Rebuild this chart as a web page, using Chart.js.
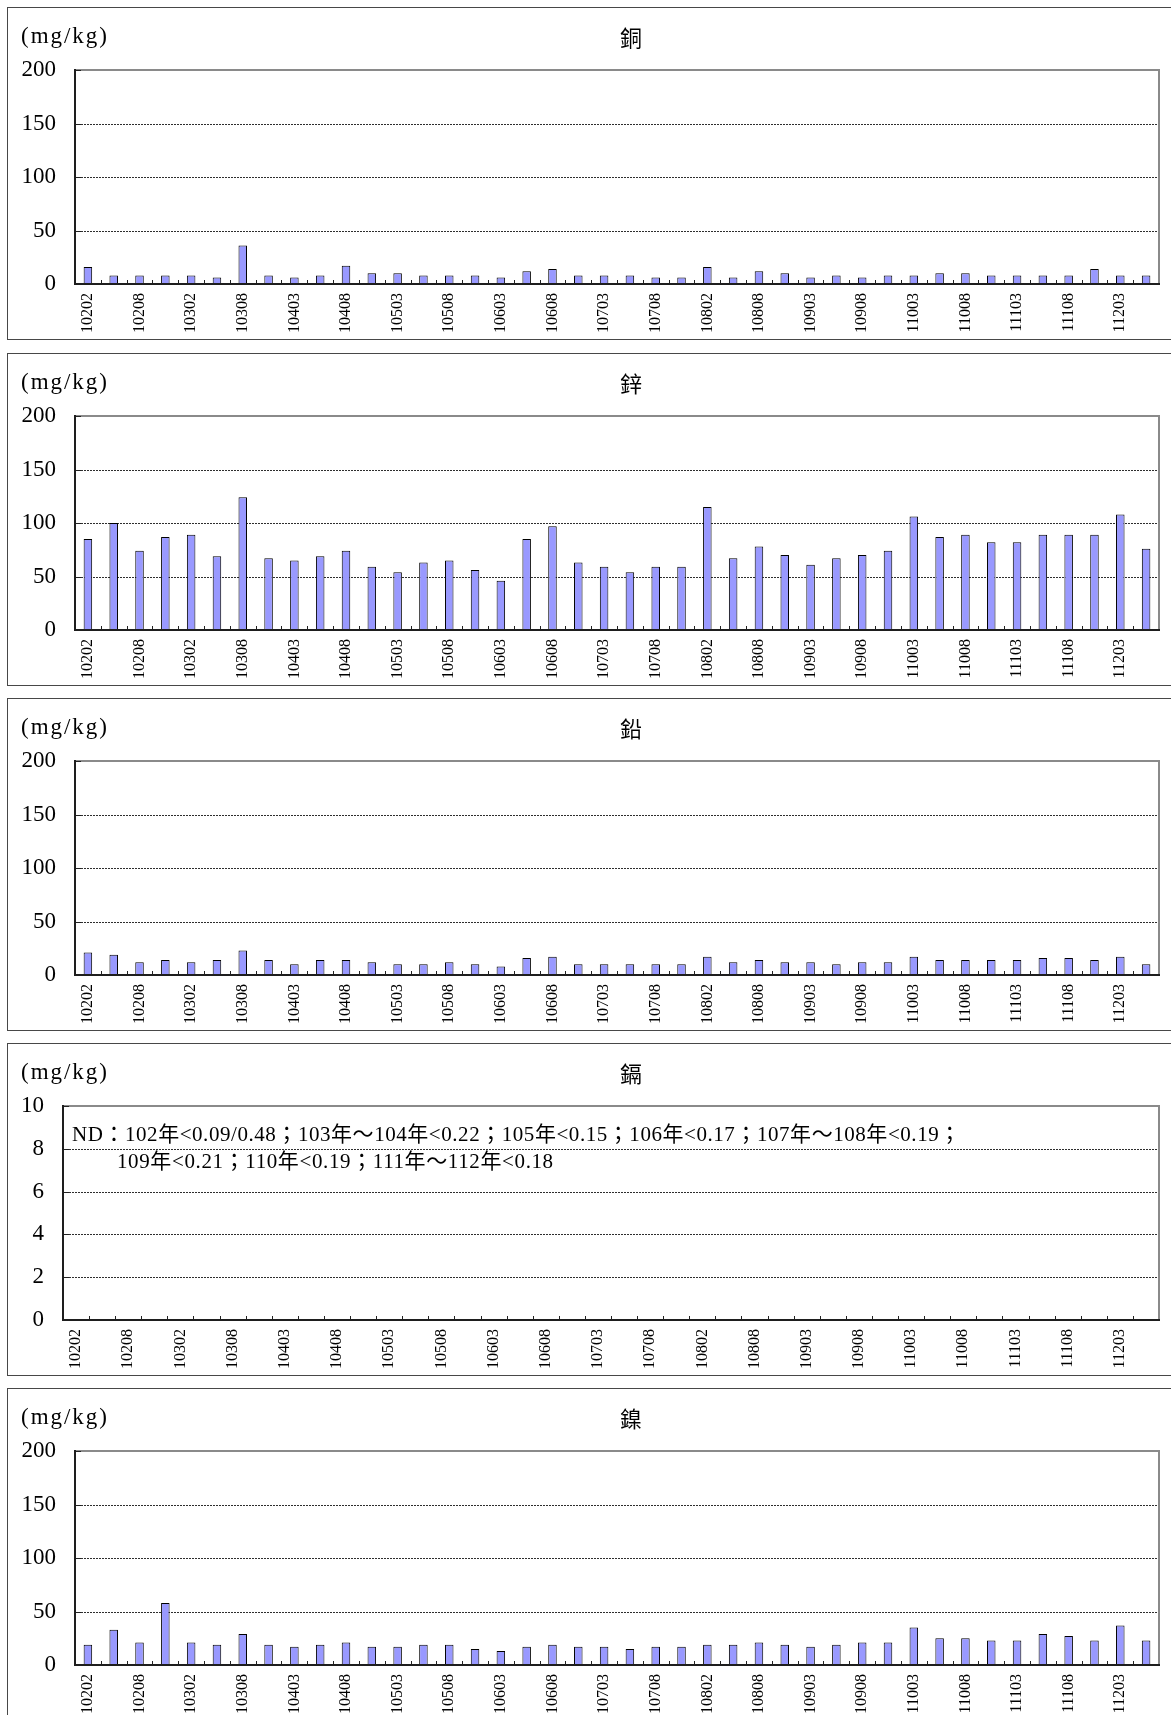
<!DOCTYPE html>
<html>
<head>
<meta charset="utf-8">
<script src="https://cdn.jsdelivr.net/npm/chart.js@4/dist/chart.umd.min.js"></script>
<style>
  html, body { margin: 0; padding: 0; background: #fff; overflow: hidden; width: 1171px; height: 1715px; }
  .panel { position: absolute; left: 7px; width: 1180px; height: 331px; border: 1px solid #484848; background: #fff; }
  .panel canvas { position: absolute; left: 0; top: 0; }
</style>
</head>
<body>
<div class="panel" style="top:7px"><canvas id="cu" width="1163" height="331" style="width:1163px;height:331px"></canvas></div>
<div class="panel" style="top:353px"><canvas id="zn" width="1163" height="331" style="width:1163px;height:331px"></canvas></div>
<div class="panel" style="top:698px"><canvas id="pb" width="1163" height="331" style="width:1163px;height:331px"></canvas></div>
<div class="panel" style="top:1043px"><canvas id="cd" width="1163" height="331" style="width:1163px;height:331px"></canvas></div>
<div class="panel" style="top:1388px"><canvas id="ni" width="1163" height="331" style="width:1163px;height:331px"></canvas></div>
<script>
// Sampling rounds (ROC year + month)
const categories = ['10202','10205','10208','10211','10302','10305','10308','10311','10403','10405',
  '10408','10411','10503','10505','10508','10511','10603','10605','10608','10611',
  '10703','10705','10708','10711','10802','10805','10808','10811','10903','10905',
  '10908','10911','11003','11005','11008','11011','11103','11105','11108','11111',
  '11203','11205'];

// Concentrations, mg/kg
const copper = [16, 8, 8, 8, 8, 6, 36, 8, 6, 8,
  17, 10, 10, 8, 8, 8, 6, 12, 14, 8,
  8, 8, 6, 6, 16, 6, 12, 10, 6, 8,
  6, 8, 8, 10, 10, 8, 8, 8, 8, 14,
  8, 8];
const zinc = [85, 100, 74, 87, 89, 69, 124, 67, 65, 69,
  74, 59, 54, 63, 65, 56, 46, 85, 97, 63,
  59, 54, 59, 59, 115, 67, 78, 70, 61, 67,
  70, 74, 106, 87, 89, 82, 82, 89, 89, 89,
  108, 76];
const lead = [21, 19, 12, 14, 12, 14, 23, 14, 10, 14,
  14, 12, 10, 10, 12, 10, 8, 16, 17, 10,
  10, 10, 10, 10, 17, 12, 14, 12, 12, 10,
  12, 12, 17, 14, 14, 14, 14, 16, 16, 14,
  17, 10];
// Cadmium: every round below detection limit (ND)
const cadmium = [null, null, null, null, null, null, null, null, null, null,
  null, null, null, null, null, null, null, null, null, null,
  null, null, null, null, null, null, null, null, null, null,
  null, null, null, null, null, null, null, null, null, null,
  null, null];
const nickel = [19, 33, 21, 58, 21, 19, 29, 19, 17, 19,
  21, 17, 17, 19, 19, 15, 13, 17, 19, 17,
  17, 15, 17, 17, 19, 19, 21, 19, 17, 19,
  21, 21, 35, 25, 25, 23, 23, 29, 27, 23,
  37, 23];

const unitLabel = '(mg/kg)';
const cadmiumNote = [
  'ND：102年<0.09/0.48；103年～104年<0.22；105年<0.15；106年<0.17；107年～108年<0.19；',
  '109年<0.21；110年<0.19；111年～112年<0.18'
];

const SERIF = '"Liberation Serif", "Times New Roman", serif';
const CJK = '"Noto Sans CJK TC", "Noto Sans CJK SC", sans-serif';

// Draw text spread to a given width with letter spacing
function spreadText(ctx, text, x, y, width, font) {
  ctx.save();
  ctx.font = font;
  ctx.letterSpacing = '0px';
  const natural = ctx.measureText(text).width;
  const extra = (width - natural) / Math.max(1, [...text].length - 1);
  ctx.letterSpacing = extra.toFixed(2) + 'px';
  ctx.textAlign = 'left';
  ctx.textBaseline = 'middle';
  ctx.fillStyle = '#000';
  ctx.fillText(text, x, y);
  ctx.restore();
}

const panelDecor = {
  id: 'panelDecor',
  beforeDatasetsDraw(chart) {
    const { ctx, chartArea: a } = chart;
    const ys = chart.scales.y;
    ctx.save();
    ctx.strokeStyle = '#2e2e2e';
    ctx.lineWidth = 1;
    ctx.setLineDash([2, 1]);
    ys.ticks.forEach(t => {
      if (t.value > ys.min && t.value < ys.max) {
        const py = Math.round(ys.getPixelForValue(t.value)) + 0.5;
        ctx.beginPath();
        ctx.moveTo(a.left, py);
        ctx.lineTo(a.right, py);
        ctx.stroke();
      }
    });
    ctx.restore();
  },
  afterDatasetsDraw(chart) {
    const { ctx, chartArea: a } = chart;
    const xs = chart.scales.x, ys = chart.scales.y;
    const L = Math.round(a.left), R = Math.round(a.right), T = Math.round(a.top), B = Math.round(a.bottom);
    ctx.save();
    // plot frame: grey top and right edge
    ctx.fillStyle = '#8a8a8a';
    ctx.fillRect(L, T - 1, R - L + 1, 2);
    ctx.fillRect(R - 1, T - 1, 2, B - T + 1);
    // value axis ticks pointing inwards
    ctx.fillStyle = '#222';
    ys.ticks.forEach(t => {
      const py = Math.round(ys.getPixelForValue(t.value));
      ctx.fillRect(L, py, 6, 1);
    });
    // category boundary marks on the base line
    const n = xs.getLabels().length;
    for (let i = 1; i < n; i++) {
      const bx = Math.round((xs.getPixelForValue(i - 1) + xs.getPixelForValue(i)) / 2);
      ctx.fillRect(bx, B - 4, 1, 4);
    }
    // dark axes left and bottom
    ctx.fillStyle = '#1e1e1e';
    ctx.fillRect(L - 1, T - 1, 2, B - T + 2);
    ctx.fillRect(L - 1, B - 1, R - L + 2, 2);
    ctx.restore();
  },
  afterDraw(chart, _args, opts) {
    const { ctx } = chart;
    ctx.save();
    ctx.fillStyle = '#000';
    ctx.font = '22px ' + CJK;
    ctx.textAlign = 'center';
    ctx.textBaseline = 'middle';
    ctx.fillText(opts.title, 623, 30);
    ctx.restore();
    spreadText(ctx, unitLabel, 13, 29, 86, '23px ' + SERIF);
    if (opts.note) {
      spreadText(ctx, opts.note[0], 64, 91, 888, '21px ' + SERIF + ', ' + CJK);
      spreadText(ctx, opts.note[1], 109, 118, 436, '21px ' + SERIF + ', ' + CJK);
    }
  }
};

function buildChart(id, title, values, yMax, yStep, axisWidth, note) {
  return new Chart(document.getElementById(id), {
    type: 'bar',
    data: {
      labels: categories,
      datasets: [{
        data: values,
        backgroundColor: '#9999FF',
        borderColor: '#000',
        borderWidth: 1,
        barPercentage: 0.33,
        categoryPercentage: 1
      }]
    },
    options: {
      responsive: false,
      animation: false,
      devicePixelRatio: 1,
      layout: { padding: { top: 62, right: 12, left: 0, bottom: 0 } },
      plugins: {
        legend: { display: false },
        tooltip: { enabled: false },
        title: { display: false },
        panelDecor: { title: title, note: note }
      },
      scales: {
        x: {
          offset: true,
          grid: { display: false, drawTicks: false },
          border: { display: false },
          ticks: {
            autoSkip: false,
            minRotation: 90,
            maxRotation: 90,
            padding: 9,
            color: '#000',
            font: { family: SERIF, size: 16 },
            callback: (v, i) => (i % 2 === 0 ? categories[i] : '')
          },
          afterFit: s => { s.height = 55; s.paddingLeft = 0; s.paddingRight = 0; }
        },
        y: {
          min: 0,
          max: yMax,
          grid: { display: false, drawTicks: false },
          border: { display: false },
          ticks: {
            stepSize: yStep,
            padding: 19,
            color: '#000',
            font: { family: SERIF, size: 23 }
          },
          afterFit: s => { s.width = axisWidth; s.paddingTop = 0; s.paddingBottom = 0; }
        }
      }
    },
    plugins: [panelDecor]
  });
}

buildChart('cu', '銅', copper, 200, 50, 67);
buildChart('zn', '鋅', zinc, 200, 50, 67);
buildChart('pb', '鉛', lead, 200, 50, 67);
buildChart('cd', '鎘', cadmium, 10, 2, 55, cadmiumNote);
buildChart('ni', '鎳', nickel, 200, 50, 67);
</script>
</body>
</html>
